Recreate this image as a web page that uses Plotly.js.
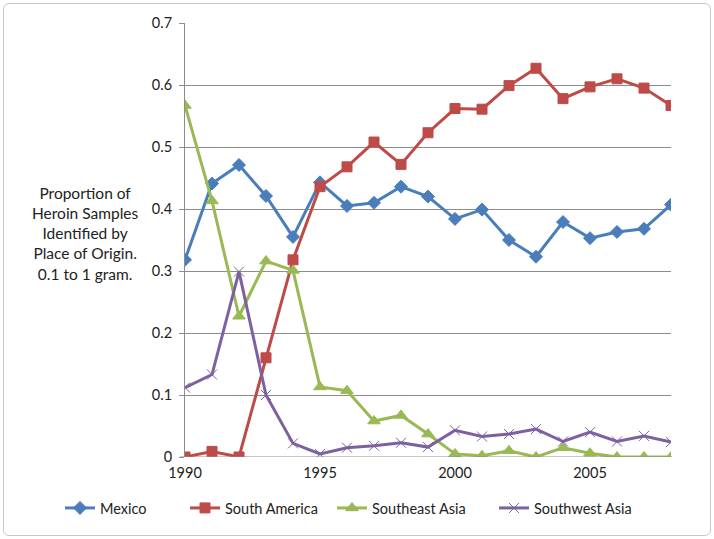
<!DOCTYPE html>
<html><head><meta charset="utf-8">
<script src="https://cdn.plot.ly/plotly-3.0.1.min.js"></script>
<style>
body{margin:0;background:#fff;}
#frame{position:absolute;left:3px;top:3px;width:706px;height:531px;border:1px solid #c8c8c8;border-radius:6px;}
#chart{position:absolute;left:0;top:0;width:714px;height:539px;}
</style>
</head><body>
<div id="frame"></div>
<div id="chart"></div>
<script>
const years = [1990,1991,1992,1993,1994,1995,1996,1997,1998,1999,2000,2001,2002,2003,2004,2005,2006,2007,2008];
const mexico = [0.318,0.441,0.471,0.421,0.355,0.443,0.405,0.410,0.436,0.420,0.384,0.399,0.350,0.323,0.379,0.353,0.363,0.368,0.407];
const southAmerica = [0,0.009,0,0.160,0.318,0.436,0.468,0.508,0.472,0.523,0.562,0.561,0.599,0.627,0.578,0.597,0.610,0.595,0.567];
const southeastAsia = [0.567,0.413,0.227,0.316,0.301,0.113,0.107,0.058,0.067,0.037,0.005,0.002,0.010,0,0.015,0.006,0,0,0];
const southwestAsia = [0.112,0.133,0.299,0.100,0.022,0.005,0.015,0.018,0.023,0.016,0.043,0.033,0.037,0.045,0.025,0.040,0.025,0.034,0.024];
const yTitleLines = ["Proportion of","Heroin Samples","Identified by","Place of Origin.","0.1 to 1 gram."];

const font = "Lato, 'Open Sans', 'Noto Sans', sans-serif";
function tr(name, y, color, symbol, size, leg){
  return {x: years, y: y, name: name, type:'scatter', mode:'lines+markers', legend: leg,
    line:{color: color, width: 3},
    marker:{symbol: symbol, size: size, color: color, line:{color: color, width: 1}}};
}
const data = [
  tr('Mexico', mexico, '#4a7ebb', 'diamond', 10, 'legend'),
  tr('South America', southAmerica, '#be4b48', 'square', 10, 'legend2'),
  tr('Southeast Asia', southeastAsia, '#98b954', 'triangle-up', 11, 'legend3'),
  tr('Southwest Asia', southwestAsia, '#7d60a0', 'x-thin-open', 10, 'legend4')
];
function leg(xpx){
  return {orientation:'h', xref:'container', yref:'container', x: xpx/714, xanchor:'left', y:0.0575, yanchor:'middle',
    font:{size:14.5, color:'#222'}, itemwidth:30, bgcolor:'rgba(0,0,0,0)'};
}
const layout = {
  width:714, height:539,
  margin:{l:185, r:43, t:23, b:82, autoexpand:false},
  paper_bgcolor:'rgba(0,0,0,0)', plot_bgcolor:'rgba(0,0,0,0)',
  font:{family: font, size:14, color:'#222'},
  showlegend:true,
  legend: leg(60), legend2: leg(185), legend3: leg(332), legend4: leg(494),
  xaxis:{range:[1990,2008], tickvals:[1990,1995,2000,2005], ticktext:['1990','1995','2000','2005'],
    showgrid:false, zeroline:false, showline:false, ticks:'', tickangle:0, tickfont:{size:14.5, color:'#222'}, ticklabelstandoff:5},
  yaxis:{range:[0,0.7], dtick:0.1, tickformat:'.1~f', showgrid:true, gridcolor:'#8c8c8c', gridwidth:1,
    zeroline:false, showline:true, linecolor:'#8c8c8c', ticks:'outside', ticklen:5, tickcolor:'#8c8c8c',
    tickfont:{size:14.5, color:'#222'}, ticklabelstandoff:4},
  shapes:[{type:'line', xref:'paper', yref:'y', x0:-0.01, x1:1.002, y0:0, y1:0, line:{color:'#8c8c8c', width:1}}],
  annotations:[{xref:'paper', yref:'paper', x:-0.205, y:0.515, xanchor:'center', yanchor:'middle', showarrow:false,
    align:'center', text: yTitleLines.join('<br>'), font:{size:15.5, color:'#222', family: font}}]
};
Plotly.newPlot('chart', data, layout, {displayModeBar:false});
</script>
</body></html>
